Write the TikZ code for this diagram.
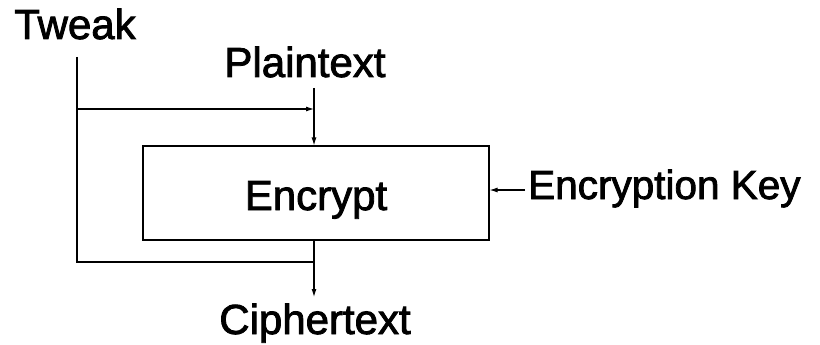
\documentclass[tikz,border=0pt]{standalone}
\usepackage{fontspec}
\setmainfont{Liberation Sans}
\newfontfamily\heavysans[FakeBold=2]{Liberation Sans}
\usetikzlibrary{arrows.meta}
\begin{document}
\begin{tikzpicture}[x=1pt,y=-1pt,
  lbl/.style={inner sep=0pt,anchor=base,font=\heavysans\fontsize{42}{48}\selectfont},
  conn/.style={line width=1.1pt},
  arr/.style={conn,-{Latex[length=8pt,width=5pt]}}]
\useasboundingbox (0,0) rectangle (820,345);
\node[lbl] (tweak) at (75,39) {Tweak};
\node[lbl] (plain) at (305,77) {Plaintext};
\node[lbl] (cipher) at (315,334) {Ciphertext};
\node[lbl,anchor=base west,font=\heavysans\fontsize{40.5}{48}\selectfont] (key) at (528,199) {Encryption Key};
\node[draw,line width=1.1pt,minimum width=346pt,minimum height=94pt,inner sep=0pt] (enc) at (316,193) {};
\node[lbl] (enclabel) at (316,210) {Encrypt};
\coordinate (t0) at (77,57);
\coordinate (t1) at (77,109);
\coordinate (t2) at (77,262);
\coordinate (p0) at (314,88);
\coordinate (j1) at (314,109);
\coordinate (j2) at (314,262);
\coordinate (c0) at (314,297);
\coordinate (k0) at (525,190);
\draw[conn] (t0) -- (t2) -- (j2);
\draw[arr] (t1) -- (j1);
\draw[arr] (p0) -- (enc.north -| p0);
\draw[arr] (enc.south -| p0) -- (c0);
\draw[arr] (k0) -- (enc.east |- k0);
\end{tikzpicture}
\end{document}
